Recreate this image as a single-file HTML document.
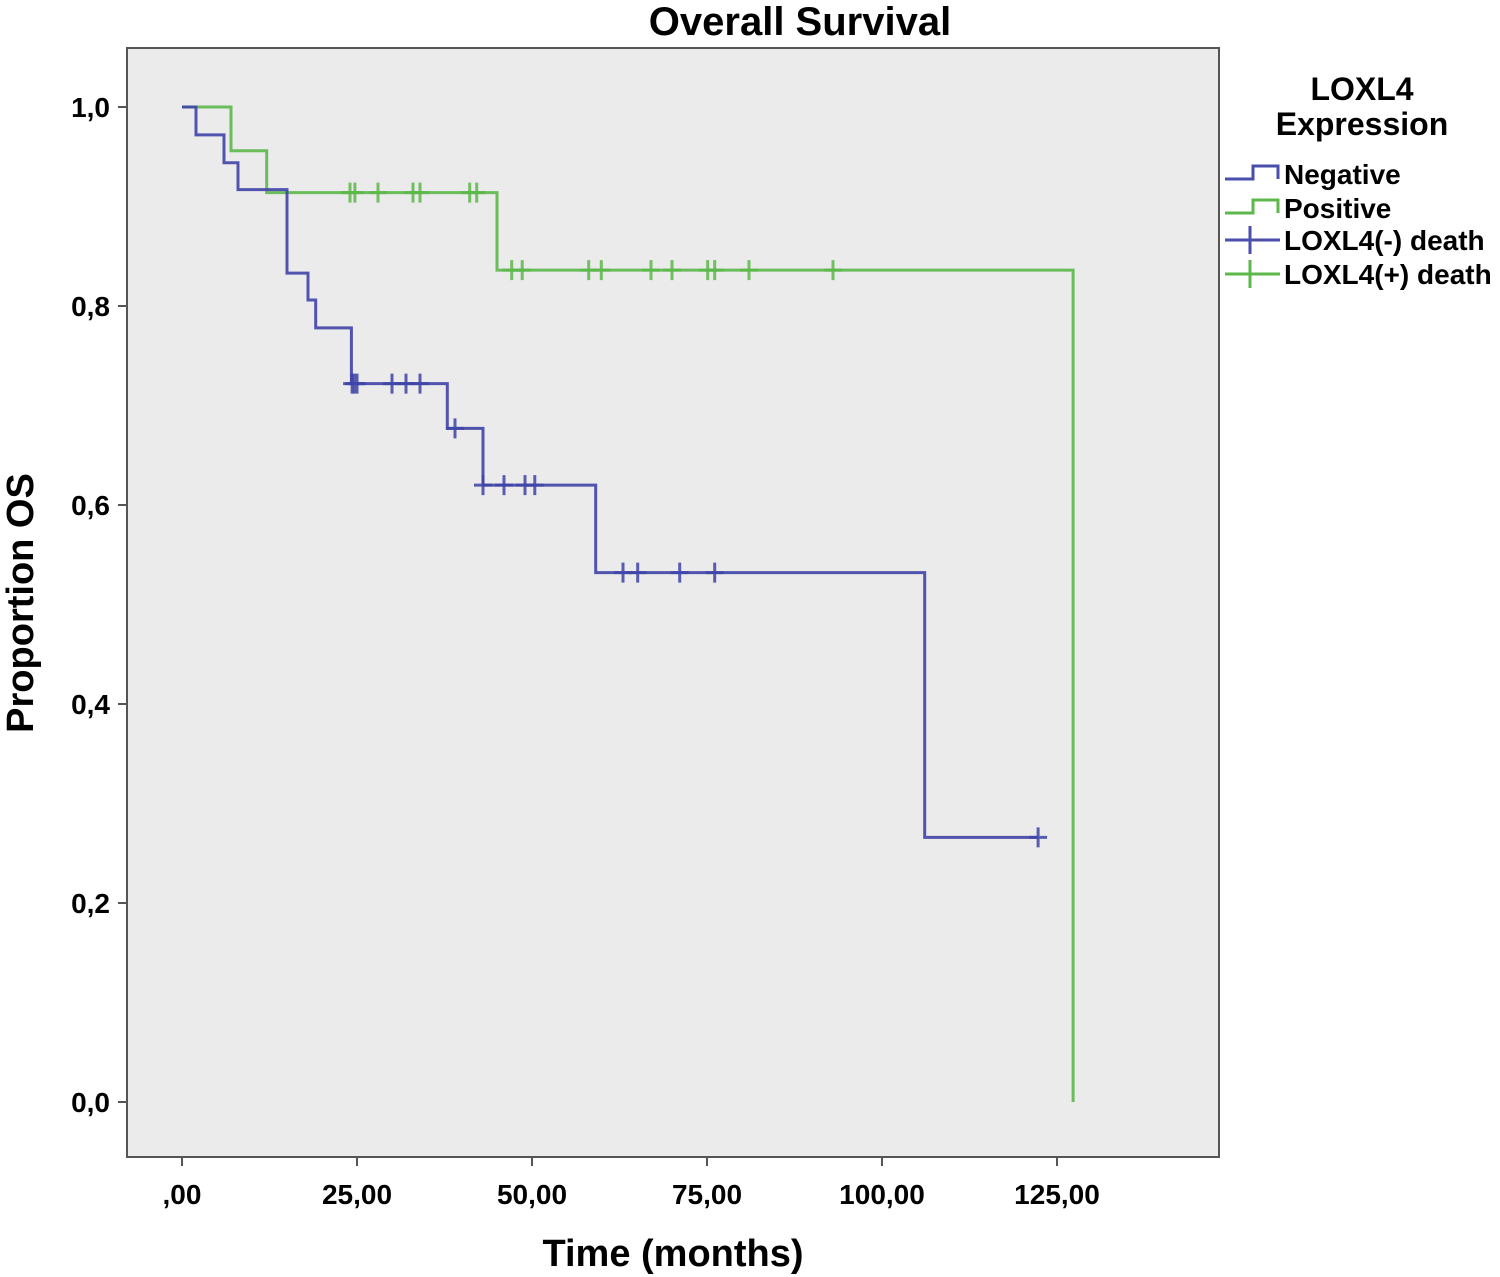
<!DOCTYPE html>
<html><head><meta charset="utf-8"><style>
html,body{margin:0;padding:0;background:#fff;width:1500px;height:1277px;overflow:hidden}
svg text{font-family:"Liberation Sans",sans-serif;font-weight:bold;fill:#000}
</style></head><body>
<svg id="chart" width="1500" height="1277" xmlns="http://www.w3.org/2000/svg">
<text x="800" y="35" font-size="40" text-anchor="middle">Overall Survival</text>
<rect x="127" y="48" width="1092" height="1109" fill="#ebebeb" stroke="#555" stroke-width="2"/>
<g id="xticks"></g>
<g id="yticks"></g>
<text x="673" y="1266" font-size="38" text-anchor="middle">Time (months)</text>
<text transform="translate(33,603) rotate(-90)" font-size="38" text-anchor="middle">Proportion OS</text>
<g id="series"></g>
<g>
<text x="1362" y="100" font-size="32" text-anchor="middle">LOXL4</text>
<text x="1362" y="135" font-size="32" text-anchor="middle">Expression</text>
<g><path d="M1225,179 H1253 V166 H1278 V179" fill="none" stroke="#4a4fab" stroke-width="3"/><text x="1284" y="184" font-size="28">Negative</text></g>
<g><path d="M1225,213 H1253 V200 H1278 V213" fill="none" stroke="#5cb84a" stroke-width="3"/><text x="1284" y="218" font-size="28">Positive</text></g>
<g><path d="M1225,240 H1280 M1250,226 V254" stroke="#4a4fab" stroke-width="3"/><text x="1284" y="250" font-size="28">LOXL4(-) death</text></g>
<g><path d="M1225,274 H1280 M1250,260 V288" stroke="#5cb84a" stroke-width="3"/><text x="1284" y="284" font-size="28">LOXL4(+) death</text></g>
</g>
</svg>
<script>
const xTicks=[0,25,50,75,100,125];
const xTickLabels=[",00","25,00","50,00","75,00","100,00","125,00"];
const yTicks=[0,0.2,0.4,0.6,0.8,1.0];
const yTickLabels=["0,0","0,2","0,4","0,6","0,8","1,0"];
const negTimes=[0,2,6,8,15,18,19.1,24.2,37.9,43,59.1,106.1,122.3];
const negSurv=[1,0.972,0.944,0.917,0.833,0.806,0.778,0.722,0.677,0.620,0.532,0.266,0.266];
const negCensor=[24.3,24.6,25,30,32,34,39,43,46,49,50.4,63,65.1,71.1,76.1,122.3];
const posTimes=[0,7,12.1,45,127.3,127.3];
const posSurv=[1,0.956,0.914,0.836,0.836,0];
const posCensor=[24,24.7,28,33,34,41.1,42.1,47.1,48.6,58.1,59.9,67,70,75.1,76.1,81,93];
const NS="http://www.w3.org/2000/svg";
const X=t=>182+7*t, Y=s=>1102-995*s;
function mk(tag,attrs,parent){const e=document.createElementNS(NS,tag);for(const k in attrs)e.setAttribute(k,attrs[k]);parent.appendChild(e);return e;}
const xg=document.getElementById('xticks'), yg=document.getElementById('yticks'), sg=document.getElementById('series');
xTicks.forEach((v,i)=>{
 const l=mk('line',{x1:X(v),x2:X(v),y1:1157,y2:1166,stroke:'#555','stroke-width':2},xg);
 
 
 const t=mk('text',{x:X(v),y:1204,'font-size':28,'text-anchor':'middle'},xg);t.textContent=xTickLabels[i];
 
 
});
yTicks.forEach((v,i)=>{
 const l=mk('line',{x1:118,x2:127,y1:Y(v),y2:Y(v),stroke:'#555','stroke-width':2},yg);
 
 
 const t=mk('text',{x:110,y:Y(v)+10,'font-size':28,'text-anchor':'end'},yg);t.textContent=yTickLabels[i];
 
 
});
function stepPath(ts,ss){let d=`M${X(ts[0])},${Y(ss[0])}`;for(let i=1;i<ts.length;i++){d+=` H${X(ts[i])} V${Y(ss[i])}`;}return d;}
function survAt(ts,ss,t){let s=ss[0];for(let i=0;i<ts.length;i++){if(ts[i]<=t)s=ss[i];}return s;}
function draw(ts,ss,cens,color,name){
 const p=mk('path',{d:stepPath(ts,ss),fill:'none',stroke:color,'stroke-width':3,opacity:0.9},sg);
 
 
 cens.forEach(c=>{
  const y=Y(survAt(ts,ss,c));
  const m=mk('path',{d:`M${X(c)-9},${y} H${X(c)+9} M${X(c)},${y-10} V${y+10}`,stroke:color,'stroke-width':3,opacity:0.85},sg);
  
  
 });
}
draw(posTimes,posSurv,posCensor,'#5cb84a','positive');
draw(negTimes,negSurv,negCensor,'#3f44a8','negative');
</script>
</body></html>
